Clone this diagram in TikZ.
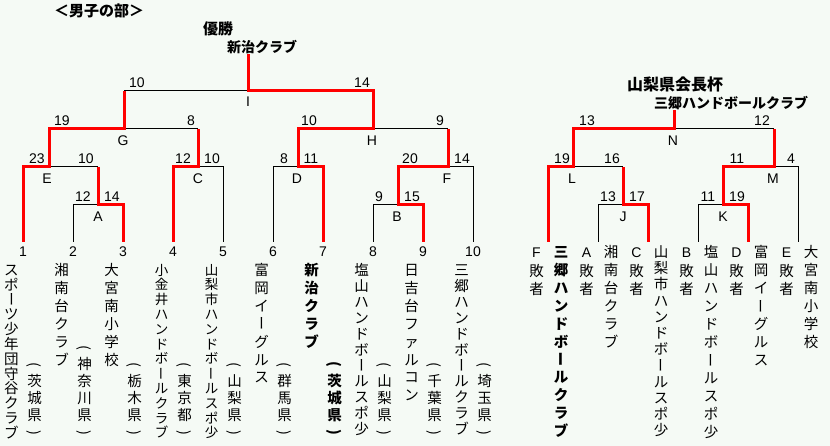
\documentclass[tikz,border=0pt]{standalone}
\usepackage{fontspec}
\usepackage{graphicx}
\newfontfamily\jp{Noto Sans CJK JP}
\newfontfamily\lat{Liberation Sans}
\definecolor{bg}{HTML}{F5FAF5}
\newcommand\VL{\rotatebox[origin=c]{90}{\rule[-0.12em]{0pt}{1em}ー}}
\newcommand\PO{\rotatebox[origin=c]{-90}{\rule[-0.12em]{0pt}{1em}(}}
\newcommand\PC{\rotatebox[origin=c]{-90}{\rule[-0.12em]{0pt}{1em})}}
\newcommand\vcol[6]{\foreach \vv [count=\ii from 0] in {#6}{\node[#2] (#1-\ii) at ({#3},{#4+\ii*#5}) {\vv};}}
\begin{document}
\begin{tikzpicture}[x=1pt,y=-1pt,
  ln/.style={draw=black,line width=1pt},
  win/.style={draw=red,line width=3pt,line join=miter},
  num/.style={inner sep=0pt,font=\lat\fontsize{14}{14}\selectfont},
  ttl/.style={inner sep=0pt,font=\jp\bfseries\fontsize{14}{14}\selectfont},
  vch/.style={inner sep=0pt,text height=12.76pt,text depth=1.74pt,font=\jp\fontsize{14.5}{14.5}\selectfont},
  vchs/.style={inner sep=0pt,text height=11.88pt,text depth=1.62pt,font=\jp\fontsize{13.5}{13.5}\selectfont},
  vchb/.style={inner sep=0pt,text height=12.76pt,text depth=1.74pt,font=\jp\bfseries\fontsize{14.5}{14.5}\selectfont}]
\path[fill=bg,use as bounding box] (0,0) rectangle (830,446);
% titles
\node[ttl,font=\jp\bfseries\fontsize{15}{15}\selectfont] (t0) at (99,11) {＜男子の部＞};
\node[ttl,font=\jp\bfseries\fontsize{15}{15}\selectfont] (t1) at (218,29) {優勝};
\node[ttl] (t2) at (262,47) {新治クラブ};
\node[ttl,font=\jp\bfseries\fontsize{16}{16}\selectfont] (t3) at (675,84) {山梨県会長杯};
\node[ttl] (t4) at (731,103) {三郷ハンドボールクラブ};
% coordinates
\foreach \k in {1,...,10} \coordinate (L\k) at ({-27+50*\k},242);
\foreach \k in {1,...,6} \coordinate (R\k) at ({498+50*\k},242);
\coordinate (A) at (98,205);
\coordinate (B) at (398,205);
\coordinate (C) at (198,167);
\coordinate (D) at (298,167);
\coordinate (E) at (49,167);
\coordinate (F) at (448,167);
\coordinate (G) at (124,129);
\coordinate (H) at (373,129);
\coordinate (I) at (248,91);
\coordinate (T) at (248,54);
\coordinate (J) at (623,205);
\coordinate (K) at (723,205);
\coordinate (mL) at (573,167);
\coordinate (M) at (774,167);
\coordinate (N) at (674,129);
\coordinate (TN) at (674,110);
% black lines
\draw[ln] (L2) |- (A);
\draw[ln] (A |- E) -- (E);
\draw[ln] (L5) |- (C);
\draw[ln] (C |- G) -- (G);
\draw[ln] (L6) |- (D);
\draw[ln] (L8) |- (B);
\draw[ln] (L10) |- (F);
\draw[ln] (F |- H) -- (H);
\draw[ln] (G |- I) -- (I);
\draw[ln] (R2) |- (J);
\draw[ln] (J |- mL) -- (mL);
\draw[ln] (R4) |- (K);
\draw[ln] (R6) |- (M);
\draw[ln] (M |- N) -- (N);
% red lines
\draw[win] (L1) |- (E) |- (G) -- (G |- I);
\draw[win] (L3) |- (A) -- (A |- E);
\draw[win] (L4) |- (C) -- (C |- G);
\draw[win] (L7) |- (D) |- (H) |- (I) -- (T);
\draw[win] (L9) |- (B) |- (F) -- (F |- H);
\draw[win] (R1) |- (mL) |- (N) -- (TN);
\draw[win] (R3) |- (J) -- (J |- mL);
\draw[win] (R5) |- (K) |- (M) -- (M |- N);
% match labels
\node[num] (lI) at (248,102) {I};
\node[num] (lG) at (123,141) {G};
\node[num] (lH) at (372,141) {H};
\node[num] (lE) at (47,179) {E};
\node[num] (lC) at (198,179) {C};
\node[num] (lD) at (297,179) {D};
\node[num] (lF) at (447,179) {F};
\node[num] (lA) at (98,217) {A};
\node[num] (lB) at (397,217) {B};
\node[num] (lN) at (673,141) {N};
\node[num] (lL) at (572,179) {L};
\node[num] (lM) at (773,179) {M};
\node[num] (lJ) at (623,217) {J};
\node[num] (lK) at (723,217) {K};
% scores
\node[num] (sI1) at (137,83) {10};
\node[num] (sI2) at (362,83) {14};
\node[num] (sG1) at (62,121) {19};
\node[num] (sG2) at (191,121) {8};
\node[num] (sH1) at (309,121) {10};
\node[num] (sH2) at (440,121) {9};
\node[num] (sE1) at (37,159) {23};
\node[num] (sE2) at (86,159) {10};
\node[num] (sC1) at (183,159) {12};
\node[num] (sC2) at (212,159) {10};
\node[num] (sD1) at (284,159) {8};
\node[num] (sD2) at (311,159) {11};
\node[num] (sF1) at (410,159) {20};
\node[num] (sF2) at (462,159) {14};
\node[num] (sA1) at (83,197) {12};
\node[num] (sA2) at (112,197) {14};
\node[num] (sB1) at (379,197) {9};
\node[num] (sB2) at (412,197) {15};
\node[num] (sN1) at (587,121) {13};
\node[num] (sN2) at (762,121) {12};
\node[num] (sL1) at (562,159) {19};
\node[num] (sL2) at (612,159) {16};
\node[num] (sM1) at (737,159) {11};
\node[num] (sM2) at (791,159) {4};
\node[num] (sJ1) at (608,197) {13};
\node[num] (sJ2) at (637,197) {17};
\node[num] (sK1) at (708,197) {11};
\node[num] (sK2) at (737,197) {19};
% leaf numbers
\foreach \k in {1,...,10} \node[num] (n\k) at ({-27+50*\k},252) {\k};
% left names
\vcol{nm1}{vch}{11.5}{270}{14.8}{ス,ポ,\VL,ツ,少,年,団,守,谷,ク,ラ,ブ}
\vcol{nm2}{vch}{61.5}{270}{17.9}{湘,南,台,ク,ラ,ブ}
\vcol{nm3}{vch}{111.5}{270}{17.9}{大,宮,南,小,学,校}
\vcol{nm4}{vchs}{161.5}{270}{14.8}{小,金,井,ハ,ン,ド,ボ,\VL,ル,ク,ラ,ブ}
\vcol{nm5}{vchs}{211.5}{270}{14.8}{山,梨,市,ハ,ン,ド,ボ,\VL,ル,ス,ポ,少}
\vcol{nm6}{vch}{261.5}{270}{17.9}{富,岡,イ,\VL,グ,ル,ス}
\vcol{nm7}{vchb}{311.5}{270}{17.9}{新,治,ク,ラ,ブ}
\vcol{nm8}{vch}{361.5}{270}{15.9}{塩,山,ハ,ン,ド,ボ,\VL,ル,ス,ポ,少}
\vcol{nm9}{vch}{411.5}{270}{17.9}{日,吉,台,フ,ァ,ル,コ,ン}
\vcol{nm10}{vch}{461.5}{270}{15.9}{三,郷,ハ,ン,ド,ボ,\VL,ル,ク,ラ,ブ}
% prefectures
\vcol{pf1}{vch}{34.5}{364}{17}{\PO,茨,城,県,\PC}
\vcol{pf2}{vch}{84.5}{347}{17}{\PO,神,奈,川,県,\PC}
\vcol{pf3}{vch}{134.5}{364}{17}{\PO,栃,木,県,\PC}
\vcol{pf4}{vch}{184.5}{364}{17}{\PO,東,京,都,\PC}
\vcol{pf5}{vch}{234.5}{364}{17}{\PO,山,梨,県,\PC}
\vcol{pf6}{vch}{284.5}{364}{17}{\PO,群,馬,県,\PC}
\vcol{pf7}{vchb}{334.5}{364}{17}{\PO,茨,城,県,\PC}
\vcol{pf8}{vch}{384.5}{364}{17}{\PO,山,梨,県,\PC}
\vcol{pf9}{vch}{434.5}{364}{17}{\PO,千,葉,県,\PC}
\vcol{pf10}{vch}{484.5}{364}{17}{\PO,埼,玉,県,\PC}
% right: losers
\node[num] (xF) at (536.5,253) {F};
\vcol{xFk}{vch}{536.5}{271}{18}{敗,者}
\node[num] (xA) at (586.5,253) {A};
\vcol{xAk}{vch}{586.5}{271}{18}{敗,者}
\node[num] (xC) at (636.5,253) {C};
\vcol{xCk}{vch}{636.5}{271}{18}{敗,者}
\node[num] (xB) at (686.5,253) {B};
\vcol{xBk}{vch}{686.5}{271}{18}{敗,者}
\node[num] (xD) at (736.5,253) {D};
\vcol{xDk}{vch}{736.5}{271}{18}{敗,者}
\node[num] (xE) at (786.5,253) {E};
\vcol{xEk}{vch}{786.5}{271}{18}{敗,者}
% right names
\vcol{rn1}{vchb}{561}{252}{17.9}{三,郷,ハ,ン,ド,ボ,\VL,ル,ク,ラ,ブ}
\vcol{rn2}{vch}{611}{252}{17.9}{湘,南,台,ク,ラ,ブ}
\vcol{rn3}{vch}{661}{252}{16.2}{山,梨,市,ハ,ン,ド,ボ,\VL,ル,ス,ポ,少}
\vcol{rn4}{vch}{711}{252}{18}{塩,山,ハ,ン,ド,ボ,\VL,ル,ス,ポ,少}
\vcol{rn5}{vch}{761}{252}{18}{富,岡,イ,\VL,グ,ル,ス}
\vcol{rn6}{vch}{811}{252}{18}{大,宮,南,小,学,校}
\end{tikzpicture}
\end{document}
